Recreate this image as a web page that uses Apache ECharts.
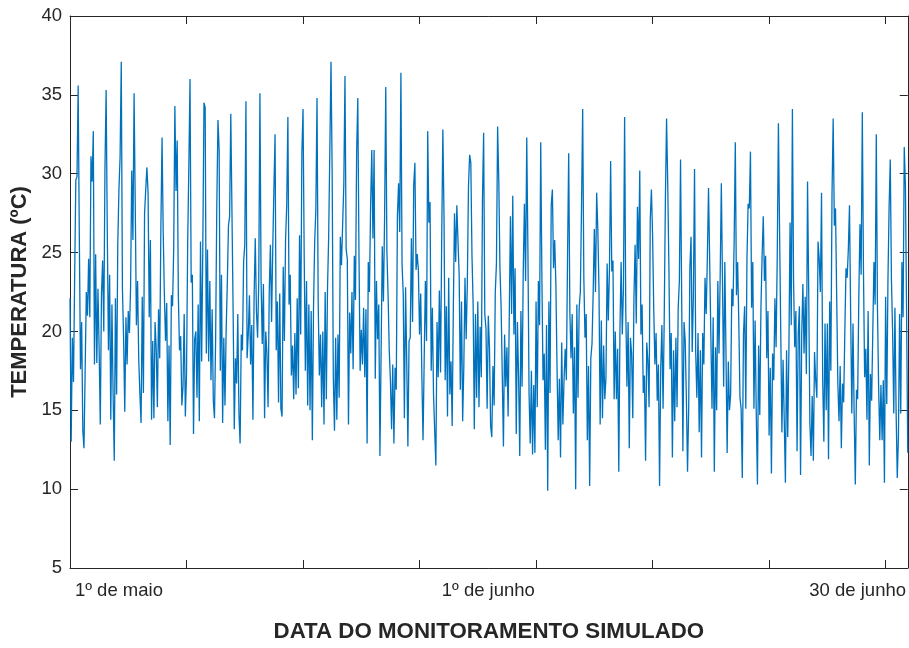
<!DOCTYPE html>
<html>
<head>
<meta charset="utf-8">
<title>Temperatura - monitoramento simulado</title>
<script src="https://cdn.jsdelivr.net/npm/echarts@6/dist/echarts.min.js"></script>
<style>
  html, body { margin: 0; padding: 0; background: #ffffff; }
  #grafico { width: 909px; height: 648px; }
</style>
</head>
<body>
<div id="grafico"></div>
<script>
// Leituras de temperatura (ºC), uma a cada 2 horas, em blocos de 90 leituras (180 h)
const passoHoras = 2;

const bloco1 = [
  22.1, 13.0, 19.6, 16.8, 23.5, 29.6, 29.8, 35.6, 26.0, 17.6,
  20.6, 13.7, 12.6, 17.5, 22.5, 21.0, 24.6, 20.9, 31.1, 29.5,
  32.7, 17.9, 24.9, 18.0, 22.7, 18.9, 14.1, 22.3, 24.5, 20.0,
  30.3, 35.3, 26.3, 18.8, 23.6, 14.4, 21.7, 16.0, 11.8, 22.1,
  16.0, 25.5, 29.0, 31.1, 37.1, 22.7, 19.6, 14.9, 20.9, 17.9,
  21.3, 19.9, 22.8, 30.2, 25.8, 35.1, 28.0, 20.4, 23.2, 18.2,
  16.0, 14.2, 22.2, 16.1, 27.5, 29.0, 30.4, 28.8, 20.9, 25.8,
  14.4, 19.4, 14.5, 20.6, 18.9, 15.2, 21.4, 18.3, 26.6, 32.3,
  26.3, 22.3, 19.4, 21.8, 14.3, 19.1, 12.8, 22.3, 21.6, 25.2
];

const bloco2 = [
  34.3, 28.9, 32.1, 22.2, 18.8, 19.7, 15.3, 16.5, 21.1, 14.6,
  17.3, 25.6, 30.5, 36.0, 23.1, 23.6, 13.5, 19.5, 20.0, 15.8,
  21.7, 14.3, 25.7, 18.1, 25.5, 34.5, 34.2, 18.6, 25.2, 18.1,
  23.2, 16.9, 21.4, 15.6, 14.5, 19.6, 28.0, 33.4, 31.5, 17.5,
  23.6, 14.2, 19.6, 15.3, 20.0, 23.0, 26.7, 27.3, 33.8, 33.7,
  21.3, 13.8, 18.3, 16.7, 21.1, 14.8, 12.9, 19.8, 18.8, 24.4,
  25.5, 34.6, 18.3, 19.8, 22.3, 17.9, 20.4, 14.4, 22.2, 25.9,
  21.3, 19.6, 23.2, 35.1, 23.2, 19.2, 23.0, 14.5, 20.0, 18.6,
  15.2, 22.5, 25.5, 20.6, 25.2, 29.0, 32.5, 18.8, 21.9, 15.5
];

const bloco3 = [
  22.4, 15.1, 14.6, 24.1, 19.4, 25.8, 28.0, 33.6, 21.7, 23.6,
  17.2, 19.1, 15.7, 19.9, 16.0, 22.1, 16.4, 26.1, 19.8, 31.3,
  34.1, 24.8, 17.5, 23.2, 15.3, 21.7, 15.0, 21.3, 13.1, 21.5,
  25.7, 27.7, 34.8, 21.9, 17.2, 19.8, 15.2, 20.0, 14.1, 22.5,
  15.7, 22.7, 26.0, 31.5, 37.1, 30.1, 17.0, 13.7, 19.6, 14.4,
  19.8, 15.8, 26.0, 24.2, 26.8, 29.3, 36.2, 25.2, 24.6, 14.1,
  21.2, 18.6, 22.5, 17.6, 24.8, 22.0, 31.3, 34.8, 25.1, 17.5,
  20.1, 17.9, 21.5, 17.1, 21.4, 12.9, 24.4, 22.5, 28.0, 31.5,
  25.9, 31.5, 17.0, 23.2, 19.5, 21.7, 12.1, 18.6, 25.4, 21.9
];

const bloco4 = [
  27.2, 35.5, 25.0, 22.3, 18.8, 16.9, 13.8, 17.9, 12.9, 17.7,
  16.3, 27.3, 29.4, 26.3, 36.4, 24.2, 22.4, 14.5, 22.8, 18.1,
  12.7, 19.4, 19.6, 25.9, 20.6, 29.3, 30.7, 23.9, 24.9, 23.9,
  19.8, 22.4, 17.1, 13.1, 18.3, 23.2, 19.4, 32.7, 26.9, 28.2,
  17.5, 21.5, 16.0, 13.7, 11.5, 20.6, 17.1, 22.6, 17.4, 25.7,
  32.8, 27.3, 16.9, 21.6, 14.6, 23.4, 16.0, 18.1, 14.0, 21.5,
  27.5, 24.4, 28.0, 25.7, 23.6, 16.3, 21.9, 14.3, 17.8, 23.4,
  19.5, 23.0, 29.2, 31.2, 30.7, 24.8, 21.7, 13.8, 21.1, 15.8,
  21.9, 15.2, 20.3, 17.1, 28.4, 32.6, 21.1, 20.2, 15.1, 21.0
];

const bloco5 = [
  19.0, 14.0, 13.3, 17.8, 15.3, 22.5, 24.3, 33.0, 29.6, 24.0,
  21.6, 17.2, 12.7, 19.8, 16.5, 19.0, 14.6, 20.9, 27.3, 21.1,
  28.6, 19.8, 24.0, 13.5, 20.6, 17.1, 12.1, 21.3, 16.5, 23.8,
  28.1, 23.2, 32.3, 25.2, 16.0, 12.9, 17.5, 12.2, 16.6, 12.3,
  21.9, 15.2, 23.2, 20.4, 32.0, 23.4, 16.9, 18.6, 12.5, 20.4,
   9.9, 21.9, 16.1, 28.0, 29.0, 24.0, 25.8, 23.0, 17.7, 13.1,
  17.0, 12.0, 19.3, 14.1, 16.9, 18.9, 16.9, 24.6, 31.3, 21.3,
  18.3, 21.1, 14.8, 19.0, 10.0, 21.7, 15.8, 21.5, 22.5, 27.8,
  34.1, 23.4, 19.6, 21.1, 13.1, 17.8, 10.2, 18.3, 19.2, 22.4
];

const bloco6 = [
  26.5, 22.5, 28.8, 26.5, 22.7, 14.1, 20.7, 14.5, 19.1, 15.7,
  17.1, 24.3, 20.7, 24.0, 30.8, 23.8, 24.5, 15.7, 20.0, 15.7,
  18.9, 11.1, 20.1, 24.4, 19.8, 22.7, 33.6, 21.3, 16.5, 20.6,
  12.6, 19.6, 18.6, 14.5, 22.1, 25.5, 20.5, 27.9, 24.6, 30.2,
  19.8, 21.7, 16.1, 17.2, 11.8, 19.3, 18.1, 15.2, 27.1, 29.0,
  26.1, 21.4, 17.9, 19.9, 15.6, 17.9, 10.2, 17.7, 20.4, 15.1,
  20.9, 28.4, 33.5, 29.4, 24.1, 17.6, 19.9, 12.0, 18.8, 14.3,
  19.6, 15.2, 21.5, 23.2, 30.9, 21.9, 12.4, 20.6, 19.4, 15.8,
  11.1, 15.2, 24.0, 26.0, 18.7, 22.2, 30.3, 18.7, 15.8, 19.9
];

const bloco7 = [
  13.6, 18.8, 12.0, 19.9, 17.9, 23.4, 21.1, 24.6, 29.1, 29.1,
  19.8, 15.1, 20.9, 11.1, 19.0, 15.0, 23.2, 18.6, 23.4, 29.4,
  23.2, 16.5, 24.4, 18.6, 12.3, 18.1, 15.0, 16.0, 22.7, 21.6,
  25.7, 32.0, 22.3, 24.4, 20.6, 15.8, 15.1, 10.7, 19.8, 21.6,
  15.1, 24.6, 28.1, 27.8, 31.4, 21.5, 24.4, 15.1, 20.7, 14.7,
  10.3, 19.1, 14.7, 21.5, 24.8, 27.3, 23.2, 24.8, 18.3, 21.3,
  13.4, 17.7, 11.0, 18.6, 16.9, 22.1, 19.0, 24.8, 33.2, 26.3,
  20.0, 13.6, 18.2, 14.4, 10.4, 18.8, 13.3, 18.8, 26.9, 20.4,
  34.1, 23.2, 19.0, 21.3, 12.4, 19.8, 21.6, 10.9, 19.8, 23.0
];

const bloco8 = [
  18.6, 22.2, 17.3, 29.5, 22.5, 14.2, 12.1, 15.9, 11.8, 18.7,
  16.9, 15.8, 25.7, 24.6, 22.5, 28.8, 16.9, 13.0, 20.5, 15.0,
  20.5, 11.9, 21.9, 17.5, 28.7, 33.5, 26.7, 27.8, 22.3, 16.7,
  14.3, 17.8, 12.6, 16.7, 15.5, 20.0, 24.0, 23.4, 25.2, 28.0,
  21.1, 14.8, 20.5, 14.8, 10.3, 16.3, 15.7, 22.2, 26.8, 23.6,
  33.9, 23.8, 17.1, 18.9, 14.4, 21.3, 11.5, 17.3, 15.6, 20.0,
  24.4, 21.7, 32.5, 21.5, 16.5, 13.1, 16.6, 13.1, 16.9, 10.4,
  22.2, 15.4, 23.2, 27.9, 30.9, 23.3, 20.0, 14.8, 21.5, 15.0,
  10.7, 13.3, 21.1, 14.8, 24.4, 20.9, 31.7, 29.2, 21.3, 12.3
];

// Eixo Y: escala e marcas
const yMin = 5, yMax = 40, yPasso = 5;

// Rótulos de data do eixo X (posição em horas desde o início)
const rotulosData = ['1º de maio', '1º de junho', '30 de junho'];
const horasRotulos = [84, 718, 1352];
const xPassoHoras = 200;

const leituras = [].concat(bloco1, bloco2, bloco3, bloco4, bloco5, bloco6, bloco7, bloco8);
const pontos = leituras.map((t, i) => [i * passoHoras, t]);
const xMax = (leituras.length - 1) * passoHoras;

const corEixo = '#262626';
const fonte = '"Liberation Sans", Arial, Helvetica, sans-serif';

const eixoBase = {
  min: 0, max: xMax, interval: xPassoHoras,
  axisLine: { show: true, onZero: false, lineStyle: { color: corEixo, width: 1 } },
  axisTick: { show: true, inside: true, length: 8, lineStyle: { color: corEixo } },
  splitLine: { show: false }
};

const grafico = echarts.init(document.getElementById('grafico'), null, { renderer: 'canvas' });

grafico.setOption({
  animation: false,
  backgroundColor: '#ffffff',
  grid: { left: 70, top: 16, width: 839, height: 556, containLabel: false },
  xAxis: [
    Object.assign({}, eixoBase, {
      type: 'value', position: 'bottom',
      name: 'DATA DO MONITORAMENTO SIMULADO',
      nameLocation: 'middle', nameGap: 53,
      nameTextStyle: { fontFamily: fonte, fontSize: 22.3, fontWeight: 'bold', color: corEixo },
      axisLabel: {
        show: true, margin: 13, color: corEixo, fontFamily: fonte, fontSize: 18.5,
        customValues: horasRotulos,
        formatter: v => rotulosData[horasRotulos.indexOf(v)] || ''
      }
    }),
    Object.assign({}, eixoBase, {
      type: 'value', position: 'top',
      axisLabel: { show: false }
    })
  ],
  yAxis: [
    {
      type: 'value', position: 'left',
      min: yMin, max: yMax, interval: yPasso,
      name: 'TEMPERATURA (ºC)', nameLocation: 'middle', nameGap: 37, nameRotate: 90,
      nameTextStyle: { fontFamily: fonte, fontSize: 22, fontWeight: 'bold', color: corEixo },
      axisLine: { show: true, onZero: false, lineStyle: { color: corEixo, width: 1 } },
      axisTick: { show: true, inside: true, length: 8, lineStyle: { color: corEixo } },
      axisLabel: { show: true, margin: 8, color: corEixo, fontFamily: fonte, fontSize: 18.5 },
      splitLine: { show: false }
    },
    {
      type: 'value', position: 'right',
      min: yMin, max: yMax, interval: yPasso,
      axisLine: { show: true, onZero: false, lineStyle: { color: corEixo, width: 1 } },
      axisTick: { show: true, inside: true, length: 8, lineStyle: { color: corEixo } },
      axisLabel: { show: false },
      splitLine: { show: false }
    }
  ],
  series: [{
    type: 'line',
    xAxisIndex: 0, yAxisIndex: 0,
    data: pontos,
    showSymbol: false,
    sampling: null,
    lineStyle: { color: '#0072BD', width: 1.3 },
    emphasis: { disabled: true }
  }]
});
</script>
</body>
</html>
